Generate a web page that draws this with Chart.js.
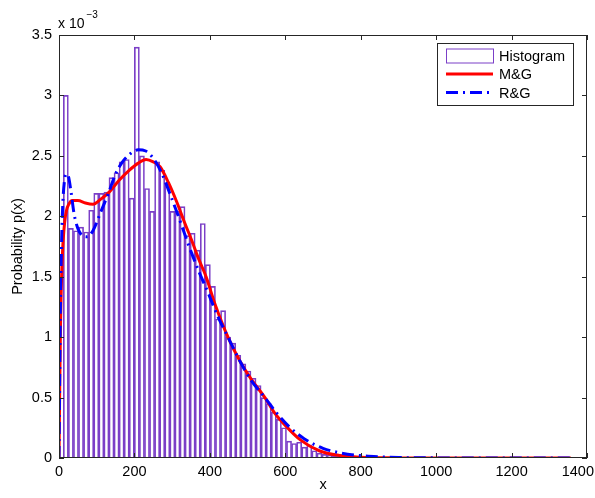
<!DOCTYPE html>
<html lang="en">
<head>
  <meta charset="UTF-8" />
  <title>Probability histogram with M&G and R&G fits</title>
  <script src="https://cdn.jsdelivr.net/npm/chart.js"></script>
  <style>
    body {
      margin: 0;
      background: #fff;
    }
    canvas {
      display: block;
    }
  </style>
</head>
<body>
  <canvas id="chart" width="595" height="498"></canvas>

  <script>
    // histogram bins (values are in units of 1e-3)
    const binStart = 11.4;
    const binWidth = 13.45;
    const histHeights = [
      3.00, 1.90, 1.88, 1.91, 1.87, 2.05, 2.19, 2.19, 2.20, 2.32,
      2.36, 2.45, 2.47, 2.15, 3.40, 2.50, 2.23, 2.04, 2.45, 2.38,
      2.27, 2.04, 2.04, 2.08, 1.84, 1.86, 1.72, 1.94, 1.60, 1.42,
      1.15, 1.22, 1.00, 0.95, 0.85, 0.78, 0.72, 0.66, 0.60, 0.50,
      0.45, 0.38, 0.32, 0.25, 0.14, 0.12, 0.13, 0.09, 0.11, 0.06,
      0.04, 0.03, 0.025, 0.02, 0.015, 0.01, 0.01, 0.005, 0.005, 0.003,
      0, 0, 0, 0, 0, 0, 0, 0, 0, 0,
      0, 0, 0, 0, 0, 0, 0, 0, 0, 0,
      0, 0, 0, 0, 0, 0, 0, 0, 0, 0,
      0, 0, 0, 0, 0, 0, 0, 0, 0, 0
    ];

    // M&G fitted density
    const mgX = [0, 2, 4, 6, 8, 11, 15, 20, 26, 35, 50, 70, 90, 110, 133, 160, 186, 210, 231, 250,
                 268, 290, 312, 334, 352, 370, 390, 414, 448, 480, 510, 546, 570, 600, 640, 690, 745, 800, 900, 1000, 1357];
    const mgY = [0, 0.6, 1.1, 1.4, 1.6, 1.8, 1.95, 2.05, 2.1, 2.13, 2.13, 2.11, 2.10, 2.14, 2.2, 2.3, 2.38, 2.44, 2.47, 2.45,
                 2.41, 2.28, 2.12, 1.94, 1.8, 1.65, 1.5, 1.27, 1.0, 0.8, 0.65, 0.5, 0.38, 0.27, 0.15, 0.06, 0.02, 0.006, 0.001, 0, 0];

    // R&G fitted density
    const rgX = [0, 2, 4, 7, 10, 14, 19, 25, 32, 40, 50, 62, 75, 90, 110, 131, 150, 166, 190, 210,
                 230, 250, 272, 295, 320, 345, 370, 395, 420, 448, 480, 510, 546, 575, 610, 650, 700, 750, 800, 850, 900, 1000, 1357];
    const rgY = [0, 0.7, 1.3, 1.8, 2.1, 2.28, 2.35, 2.33, 2.2, 2.02, 1.9, 1.84, 1.83, 1.88, 2.03, 2.19, 2.35, 2.44, 2.52, 2.55,
                 2.54, 2.48, 2.36, 2.18, 1.97, 1.75, 1.55, 1.37, 1.18, 1.0, 0.8, 0.64, 0.5, 0.38, 0.26, 0.16, 0.08, 0.04, 0.02, 0.01, 0.004, 0.001, 0];

    const xMin = 0, xMax = 1400, xStep = 200;
    const yMin = 0, yMax = 3.5, yStep = 0.5;
    const yExponent = '\u22123';

    const FONT = "'Liberation Sans', Arial, sans-serif";
    const PURPLE = '#7b3fc7';

    const histData = histHeights.map((h, i) => ({ x: binStart + binWidth * (i + 0.5), y: h }));
    const mgData = mgX.map((x, i) => ({ x: x, y: mgY[i] }));
    const rgData = rgX.map((x, i) => ({ x: x, y: rgY[i] }));

    // keep the last x label ("1400") inside the canvas instead of clipping it
    const lastLabelPlugin = {
      id: 'lastLabel',
      beforeDraw(chart) {
        const items = chart.scales.x.getLabelItems();
        const last = items[items.length - 1];
        if (!last) return;
        last.options.translation = [chart.width - 1, last.options.translation[1]];
        last.options.textAlign = 'right';
      }
    };

    // box + inward ticks + exponent label, like a matlab axes
    const framePlugin = {
      id: 'frame',
      afterDatasetsDraw(chart) {
        const { ctx, chartArea: a, scales: { x, y } } = chart;
        const len = 5;
        ctx.save();
        ctx.strokeStyle = '#262626';
        ctx.lineWidth = 1;
        ctx.strokeRect(a.left + 0.5, a.top + 0.5, a.right - a.left - 1, a.bottom - a.top - 1);
        ctx.beginPath();
        x.ticks.forEach(t => {
          const px = Math.round(x.getPixelForValue(t.value)) + 0.5;
          ctx.moveTo(px, a.bottom); ctx.lineTo(px, a.bottom - len);
          ctx.moveTo(px, a.top); ctx.lineTo(px, a.top + len);
        });
        y.ticks.forEach(t => {
          const py = Math.round(y.getPixelForValue(t.value)) + 0.5;
          ctx.moveTo(a.left, py); ctx.lineTo(a.left + len, py);
          ctx.moveTo(a.right, py); ctx.lineTo(a.right - len, py);
        });
        ctx.stroke();

        ctx.fillStyle = '#000';
        ctx.textBaseline = 'alphabetic';
        ctx.textAlign = 'left';
        ctx.font = '14px ' + FONT;
        ctx.fillText('x 10', a.left - 1, a.top - 7);
        const w = ctx.measureText('x 10').width;
        ctx.font = '10px ' + FONT;
        ctx.fillText(yExponent, a.left + w + 1, a.top - 17);
        ctx.restore();
      }
    };

    // legend box in the upper right corner of the axes
    const legendPlugin = {
      id: 'boxLegend',
      afterDraw(chart) {
        const { ctx, chartArea: a } = chart;
        const boxW = 136, boxH = 62;
        const bx = a.right - 14 - boxW, by = a.top + 8;
        ctx.save();
        ctx.fillStyle = '#fff';
        ctx.fillRect(bx, by, boxW, boxH);
        ctx.strokeStyle = '#262626';
        ctx.lineWidth = 1;
        ctx.strokeRect(bx + 0.5, by + 0.5, boxW, boxH);

        const order = [2, 1, 0];
        order.forEach((di, row) => {
          const ds = chart.data.datasets[di];
          const cy = by + 12.5 + row * 18.5;
          const sx = bx + 9, ex = bx + 56;
          if (ds.type === 'bar') {
            ctx.strokeStyle = ds.borderColor;
            ctx.lineWidth = 1;
            ctx.strokeRect(sx + 0.5, cy - 7 + 0.5, ex - sx, 14);
          } else {
            ctx.strokeStyle = ds.borderColor;
            ctx.lineWidth = ds.borderWidth;
            ctx.setLineDash(ds.borderDash || []);
            ctx.beginPath();
            ctx.moveTo(sx, cy);
            ctx.lineTo(ex, cy);
            ctx.stroke();
            ctx.setLineDash([]);
          }
          ctx.fillStyle = '#000';
          ctx.font = '14.5px ' + FONT;
          ctx.textBaseline = 'middle';
          ctx.fillText(ds.label, bx + 62, cy + 1);
        });
        ctx.restore();
      }
    };

    new Chart(document.getElementById('chart'), {
      type: 'bar',
      data: {
        datasets: [
          {
            type: 'line',
            label: 'R&G',
            data: rgData,
            borderColor: '#0000ff',
            borderWidth: 3,
            borderDash: [12, 5, 2, 5],
            pointRadius: 0,
            cubicInterpolationMode: 'monotone',
            fill: false,
            order: 0
          },
          {
            type: 'line',
            label: 'M&G',
            data: mgData,
            borderColor: '#ff0000',
            borderWidth: 3,
            pointRadius: 0,
            cubicInterpolationMode: 'monotone',
            fill: false,
            order: 1
          },
          {
            type: 'bar',
            label: 'Histogram',
            data: histData,
            backgroundColor: 'rgba(255,255,255,0)',
            borderColor: PURPLE,
            borderWidth: 1,
            barPercentage: 1,
            categoryPercentage: 1,
            order: 2
          }
        ]
      },
      options: {
        responsive: false,
        animation: false,
        layout: { padding: { top: 35, right: 8, left: 0, bottom: 0 } },
        plugins: {
          legend: { display: false },
          tooltip: { enabled: false }
        },
        scales: {
          x: {
            type: 'linear',
            offset: false,
            min: xMin,
            max: xMax,
            grid: { display: false, drawTicks: false },
            border: { display: false },
            ticks: {
              stepSize: xStep,
              padding: 5,
              color: '#000',
              maxRotation: 0,
              font: { family: FONT, size: 14.5 },
              callback: v => String(v)
            },
            title: {
              display: true,
              text: 'x',
              color: '#000',
              font: { family: FONT, size: 14.5 },
              padding: { top: 0, bottom: 4 }
            },
            afterFit: s => {
              s.height = 40;
              // let the last tick label hang past the axes like the original
              s.paddingLeft = 0;
              s.paddingRight = 0;
            }
          },
          y: {
            min: yMin,
            max: yMax,
            grid: { display: false, drawTicks: false },
            border: { display: false },
            ticks: {
              stepSize: yStep,
              padding: 7,
              color: '#000',
              font: { family: FONT, size: 14.5 },
              callback: v => String(v)
            },
            title: {
              display: true,
              text: 'Probability p(x)',
              color: '#000',
              font: { family: FONT, size: 14.5 },
              padding: { top: 9, bottom: 0 }
            },
            afterFit: s => { s.width = 59; }
          }
        }
      },
      plugins: [lastLabelPlugin, framePlugin, legendPlugin]
    });
  </script>
</body>
</html>
